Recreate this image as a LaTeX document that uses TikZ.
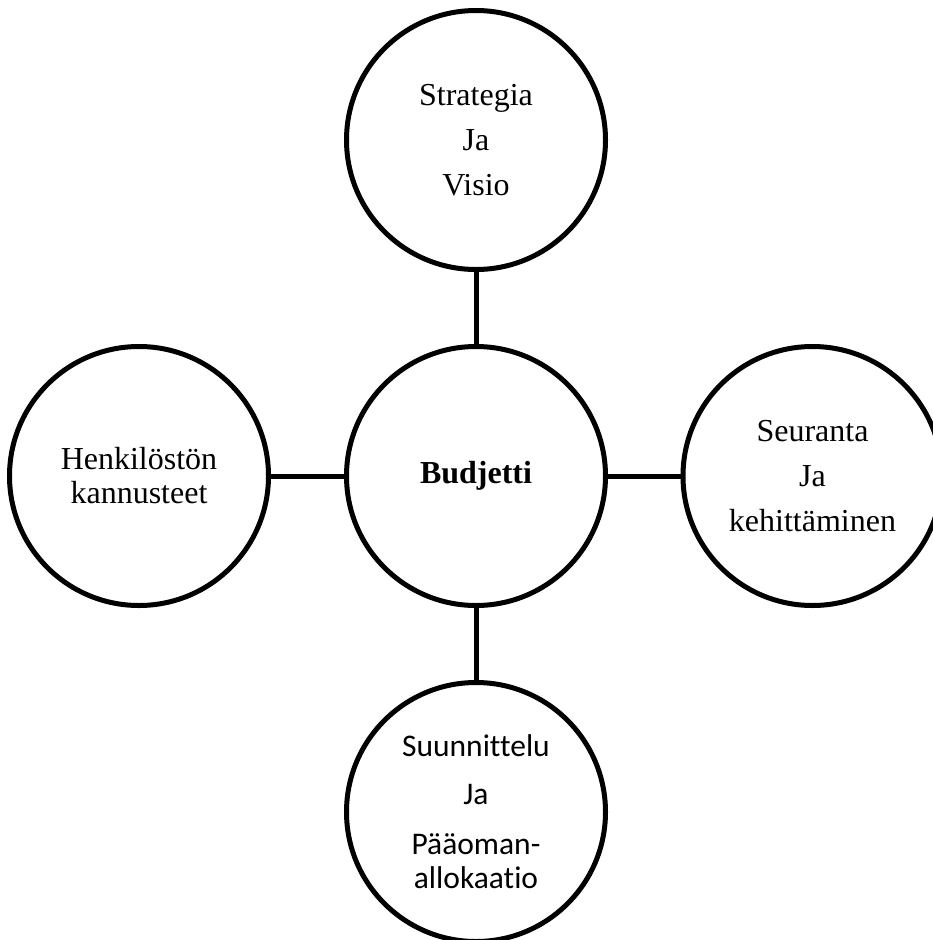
\documentclass[tikz,border=0pt]{standalone}
\usepackage{fontspec}
\setmainfont{Liberation Serif}
\newfontfamily\calfont[Ligatures=NoCommon]{Carlito}
\begin{document}
\begin{tikzpicture}[x=1pt,y=-1pt,
  bubble/.style={circle,draw=black,line width=5pt,minimum size=259pt,inner sep=0pt,align=center,fill=white,
    font=\fontsize{32}{34}\selectfont},
  link/.style={draw=black,line width=5pt}]
\useasboundingbox (0,0) rectangle (933,940);
\node[bubble] (budjetti) at (476,476) {\textbf{Budjetti}};
\node[bubble] (strategia) at (476,140) {Strategia\\[11pt]Ja\\[11pt]Visio};
\node[bubble] (henkilosto) at (139,476) {Henkilöstön\\kannusteet};
\node[bubble] (seuranta) at (812.5,476) {Seuranta\\[11pt]Ja\\[11pt]kehittäminen};
\node[bubble,font=\calfont\fontsize{31.5}{34}\selectfont] (suunnittelu) at (476,812) {Suunnittelu\\[14pt]Ja\\[16pt]Pääoman-\\allokaatio};
\draw[link] (strategia.south) -- (budjetti.north);
\draw[link] (henkilosto.east) -- (budjetti.west);
\draw[link] (budjetti.east) -- (seuranta.west);
\draw[link] (budjetti.south) -- (suunnittelu.north);
\end{tikzpicture}
\end{document}
